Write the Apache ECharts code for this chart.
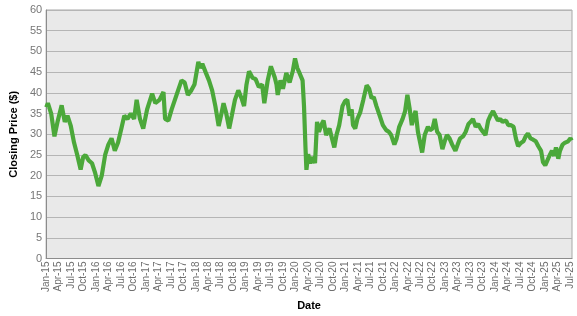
<!DOCTYPE html>
<html>
<head>
<meta charset="utf-8">
<script src="https://cdn.jsdelivr.net/npm/echarts@6/dist/echarts.min.js"></script>
<style>
html,body{margin:0;padding:0;background:#fff;}
#chart{width:577px;height:316px;}
</style>
</head>
<body>
<div id="chart"></div>
<script>
const dates = [
'2015-01-02','2015-01-14','2015-02-07','2015-03-01','2015-03-24','2015-04-23','2015-05-16','2015-06-05','2015-06-29','2015-07-23',
'2015-08-16','2015-09-10','2015-09-28','2015-10-15','2015-11-08','2015-12-02','2015-12-26','2016-01-19','2016-02-12','2016-03-07',
'2016-03-31','2016-04-23','2016-05-17','2016-06-10','2016-07-04','2016-07-26','2016-08-19','2016-09-12','2016-10-06','2016-10-25',
'2016-11-18','2016-12-12','2017-01-10','2017-02-15','2017-03-09','2017-04-09','2017-05-08','2017-05-20','2017-06-13','2017-07-07',
'2017-07-31','2017-08-24','2017-09-18','2017-10-11','2017-11-04','2017-11-29','2017-12-22','2018-01-20','2018-02-02','2018-02-17',
'2018-03-12','2018-04-06','2018-04-29','2018-05-23','2018-06-16','2018-07-03','2018-07-22','2018-08-10','2018-09-02','2018-09-21',
'2018-10-14','2018-11-08','2018-12-01','2018-12-20','2019-01-07','2019-01-26','2019-02-18','2019-03-13','2019-04-06','2019-04-30',
'2019-05-16','2019-06-10','2019-07-03','2019-08-01','2019-08-14','2019-08-23','2019-09-12','2019-09-30','2019-10-25','2019-11-18',
'2019-12-11','2019-12-28','2020-01-14','2020-02-03','2020-02-21','2020-03-02','2020-03-13','2020-03-20','2020-04-02','2020-04-18',
'2020-05-08','2020-05-22','2020-06-06','2020-06-20','2020-07-06','2020-07-24','2020-08-12','2020-09-06','2020-09-24','2020-10-11',
'2020-10-27','2020-11-16','2020-12-10','2020-12-29','2021-01-15','2021-02-01','2021-02-15','2021-02-24','2021-03-12','2021-03-28',
'2021-04-17','2021-05-10','2021-06-04','2021-06-22','2021-07-10','2021-07-26','2021-08-15','2021-09-08','2021-10-01','2021-10-26',
'2021-11-14','2021-12-01','2021-12-25','2022-01-11','2022-01-30','2022-02-22','2022-03-12','2022-03-29','2022-04-15','2022-04-30',
'2022-05-16','2022-05-28','2022-06-14','2022-07-03','2022-07-15','2022-08-03','2022-08-27','2022-09-11','2022-09-30','2022-10-16',
'2022-11-03','2022-11-21','2022-12-11','2022-12-28','2023-01-14','2023-02-02','2023-02-20','2023-03-15','2023-04-01','2023-04-18',
'2023-05-11','2023-05-30','2023-06-19','2023-07-05','2023-07-22','2023-08-11','2023-08-30','2023-09-16','2023-10-03','2023-10-22',
'2023-11-11','2023-11-27','2023-12-17','2024-01-03','2024-01-22','2024-02-08','2024-02-24','2024-03-21','2024-04-06','2024-04-26',
'2024-05-15','2024-06-01','2024-06-17','2024-07-07','2024-07-26','2024-08-12','2024-08-29','2024-09-17','2024-10-06','2024-10-25',
'2024-11-13','2024-12-03','2024-12-17','2025-01-03','2025-01-19','2025-02-08','2025-02-20','2025-03-07','2025-03-21','2025-04-07',
'2025-04-19','2025-05-08','2025-05-24','2025-06-18','2025-07-05','2025-07-14'
];
const prices = [
36.5,37.5,35,29.5,33,37,33,34.5,32,28,
25,21.5,24.5,25,23.7,23,20.6,17.5,20,25,
27.5,29,26,28,31.4,34.5,33.7,35,33.7,38.3,
33.7,31.4,36,39.8,37.5,38.3,40.2,33.7,33.3,36,
38.3,40.6,43,42.5,39.5,40.6,42,47.5,46,47,
45,43,40.6,36.8,32,34.5,37.5,35.2,31.4,34.5,
38.3,40.6,38.7,36.8,42,45.2,43.7,43.3,41.4,42,
37.5,43,46.4,43.7,42,39.5,43,41,44.8,42.5,
45.2,48.3,46,44.5,43,36.8,26.8,21.4,25.2,23,
24.5,23,33,30.6,32.2,33.3,29.8,31.4,29,26.8,
29.8,32.2,36.8,38,38.3,34.5,36,32.2,31.4,33.7,
35.2,38.3,41.8,41,38.7,39,36.8,34.5,32.2,31,
30.6,29.8,27.5,29,31.8,33.7,35.6,39.5,36,32.2,
34.5,35.6,30.6,27.5,25.6,29.8,31.8,31,31.4,33.7,
30.6,29.8,26.4,28.3,29.8,29,27.5,26,27.5,29,
29.5,30.6,32.5,33,33.7,31.8,32.5,31.4,30.6,29.8,
33.3,34.5,35.6,34.5,33.3,33.7,33,33.3,32.2,32.2,
31.8,29,27.1,27.9,28.3,29.5,30.2,29,28.7,28.3,
27.1,26,23.3,22.5,23.7,25.2,26,24.8,26.8,24.1,
26,27.5,27.9,28.3,29,28.5
];
const monthNames = ['Jan','Feb','Mar','Apr','May','Jun','Jul','Aug','Sep','Oct','Nov','Dec'];
const yTicks = {min: 0, max: 60, interval: 5};
const startYear = 2015;

function toMonths(s) {
  const p = s.split('-').map(Number);
  const dim = new Date(p[0], p[1], 0).getDate();
  return (p[0] - startYear) * 12 + (p[1] - 1) + (p[2] - 1) / dim;
}
const seriesData = dates.map((d, i) => [toMonths(d), prices[i]]);

const chart = echarts.init(document.getElementById('chart'), null, {renderer: 'canvas'});
const font = 'Liberation Sans, Arial, sans-serif';
chart.setOption({
  animation: false,
  backgroundColor: '#ffffff',
  grid: {
    left: 36, top: 10, right: 5, bottom: 45,
    show: true, backgroundColor: '#e9e9e9', borderColor: '#a8a8a8', borderWidth: 1
  },
  xAxis: {
    type: 'value',
    min: 0, max: 126.5, interval: 3,
    name: 'Date', nameLocation: 'middle', nameGap: 32,
    nameTextStyle: {fontFamily: font, fontWeight: 'bold', fontSize: 11, color: '#000'},
    axisLine: {show: true, lineStyle: {color: '#8c8c8c', width: 1}},
    axisTick: {show: false},
    splitLine: {show: false},
    axisLabel: {
      rotate: 90, fontSize: 10, fontFamily: font, color: '#6e6e6e', margin: 3,
      showMaxLabel: true,
      formatter: function (v) {
        if (Math.abs(v - Math.round(v)) > 1e-6 || Math.round(v) % 3 !== 0) return '';
        const m = Math.round(v);
        return monthNames[m % 12] + '-' + String((startYear + Math.floor(m / 12)) % 100);
      }
    }
  },
  yAxis: {
    type: 'value',
    min: yTicks.min, max: yTicks.max, interval: yTicks.interval,
    name: 'Closing Price ($)', nameLocation: 'middle', nameGap: 21, nameRotate: 90,
    nameTextStyle: {fontFamily: font, fontWeight: 'bold', fontSize: 11, color: '#000'},
    axisLine: {show: true, lineStyle: {color: '#8c8c8c', width: 1}},
    axisTick: {show: false},
    axisLabel: {fontSize: 11, fontFamily: font, color: '#777', margin: 4},
    splitLine: {show: true, lineStyle: {color: '#b5b5b5', width: 1}}
  },
  series: [{
    type: 'line',
    data: seriesData,
    showSymbol: false,
    lineStyle: {color: '#4ba83a', width: 4.2},
    itemStyle: {color: '#4ba83a'}
  }]
});
</script>
</body>
</html>
